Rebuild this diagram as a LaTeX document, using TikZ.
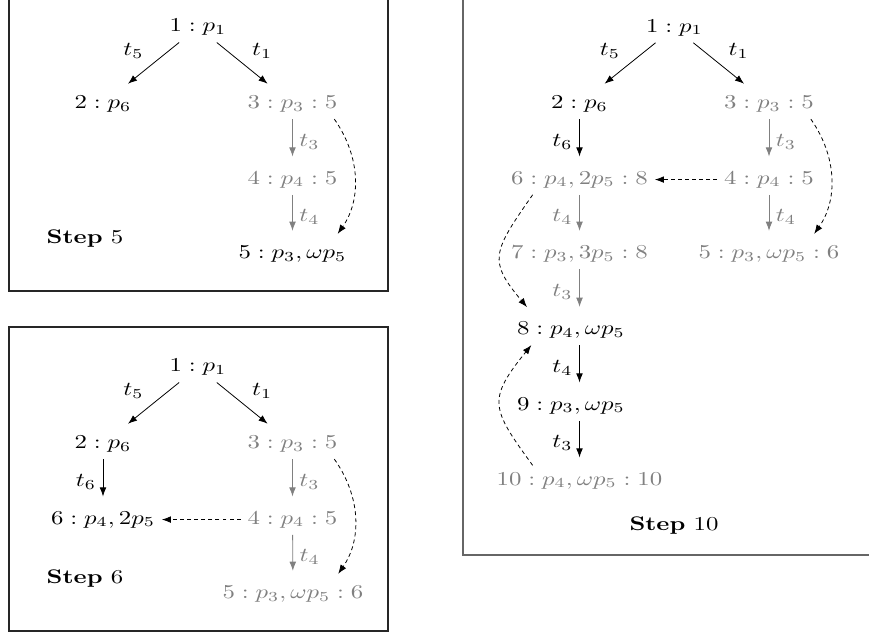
\documentclass[tikz,border=0pt]{standalone}
\usepackage{amsmath}
\usepackage{xcolor}
\usepackage{tikz}
\usetikzlibrary{arrows.meta}
\newcommand{\wide}[1]{\scalebox{1.26}[1]{#1}}
\tikzset{st/.style={anchor=base, inner sep=3.33pt},
	old/.style={st, text=black!50},
	arr/.style={-{Latex[length=4.6pt, width=3.4pt]}, shorten >=4pt},
	garr/.style={arr, color=black!50},
	cov/.style={-{Latex[length=4.6pt, width=3.4pt]}, dash pattern=on 2pt off 1.6pt},
	frame/.style={draw=black!85, line width=0.6pt}}

\begin{document}
\begin{tikzpicture}[x=1.7842cm, y=-1.7842cm]
		\useasboundingbox (0,0) rectangle (8.69,6.34);
		\clip (0,0) rectangle (8.69,6.34);
		
		\begin{scope}
			\draw[frame] (0.09,-0.13) rectangle (3.88,2.91);
			\node[st] (a1) at (1.98,0.317) {\wide{$1 : p_1$}};
			\node[st] (a2) at (1.03,1.083) {\wide{$2 : p_6$}};
			\node[old] (a3) at (2.925,1.083) {\wide{$3 : p_3 : 5$}};
			\node[old] (a4) at (2.925,1.84) {\wide{$4 : p_4 : 5$}};
			\node[st] (a5) at (2.925,2.583) {\wide{$5 : p_3, \omega p_5$}};
			\node[st] (s5) at (0.85,2.433) {\wide{\textbf{Step} 5}};
			\draw[arr] (a1) -- node[above left] (a12) {\wide{$t_5$}} (a2);
			\draw[arr] (a1) -- node[above right] (a13) {\wide{$t_1$}} (a3);
			\draw[garr] (a3) -- node[right] (a34) {\wide{$t_3$}} (a4);
			\draw[garr] (a4) -- node[right] (a45) {\wide{$t_4$}} (a5);
			\draw[cov, shorten >=3pt] (a3.-20) to[bend left=35] (a5.20);
		\end{scope}
		
		\begin{scope}[shift={(0,3.4)}]
			\draw[frame] (0.09,-0.13) rectangle (3.88,2.91);
			\node[st] (b1) at (1.98,0.317) {\wide{$1 : p_1$}};
			\node[st] (b2) at (1.03,1.083) {\wide{$2 : p_6$}};
			\node[old] (b3) at (2.925,1.083) {\wide{$3 : p_3 : 5$}};
			\node[st] (b6) at (1.03,1.84) {\wide{$6 : p_4, 2p_5$}};
			\node[old] (b4) at (2.925,1.84) {\wide{$4 : p_4 : 5$}};
			\node[old] (b5) at (2.93,2.583) {\wide{$5 : p_3, \omega p_5 : 6$}};
			\node[st] (s6) at (0.85,2.433) {\wide{\textbf{Step} 6}};
			\draw[arr] (b1) -- node[above left] (b12) {\wide{$t_5$}} (b2);
			\draw[arr] (b1) -- node[above right] (b13) {\wide{$t_1$}} (b3);
			\draw[arr] (b2) -- node[left] (b26) {\wide{$t_6$}} (b6);
			\draw[garr] (b3) -- node[right] (b34) {\wide{$t_3$}} (b4);
			\draw[garr] (b4) -- node[right] (b45) {\wide{$t_4$}} (b5);
			\draw[cov] (b4) -- (b6);
			\draw[cov, shorten >=3pt] (b3.-20) to[bend left=35] (b5.20);
		\end{scope}
		
		\begin{scope}[shift={(4.765,0)}]
			\draw[frame, draw=black!60] (-0.135,-0.13) rectangle (4.5,5.55);
			\node[st] (c1) at (1.98,0.32) {\wide{$1 : p_1$}};
			\node[st] (c2) at (1.03,1.083) {\wide{$2 : p_6$}};
			\node[old] (c3) at (2.925,1.083) {\wide{$3 : p_3 : 5$}};
			\node[old] (c6) at (1.03,1.84) {\wide{$6 : p_4, 2p_5 : 8$}};
			\node[old] (c4) at (2.925,1.84) {\wide{$4 : p_4 : 5$}};
			\node[old] (c7) at (1.03,2.583) {\wide{$7 : p_3, 3p_5 : 8$}};
			\node[old] (c5) at (2.925,2.583) {\wide{$5 : p_3, \omega p_5 : 6$}};
			\node[st] (c8) at (0.945,3.343) {\wide{$8 : p_4, \omega p_5$}};
			\node[st] (c9) at (0.945,4.10) {\wide{$9 : p_3, \omega p_5$}};
			\node[old] (c10) at (1.03,4.85) {\wide{$10 : p_4, \omega p_5 : 10$}};
			\node[st] (s10) at (1.975,5.30) {\wide{\textbf{Step} 10}};
			\draw[arr] (c1) -- node[above left] (c12) {\wide{$t_5$}} (c2);
			\draw[arr] (c1) -- node[above right] (c13) {\wide{$t_1$}} (c3);
			\draw[arr] (c2) -- node[left] (c26) {\wide{$t_6$}} (c6);
			\draw[garr] (c3) -- node[right] (c34) {\wide{$t_3$}} (c4);
			\draw[garr] (c4) -- node[right] (c45) {\wide{$t_4$}} (c5);
			\draw[garr] (c6) -- node[left] (c67) {\wide{$t_4$}} (c7);
			\draw[garr] (c7) -- node[left] (c78) {\wide{$t_3$}} (c8.north -| c7);
			\draw[arr] (c8.south -| c7) -- node[left] (c89) {\wide{$t_4$}} (c9.north -| c7);
			\draw[arr] (c9.south -| c7) -- node[left] (c910) {\wide{$t_3$}} (c10);
			\draw[cov] (c4) -- (c6);
			\draw[cov, shorten >=3pt] (c3.-20) to[bend left=35] (c5.20);
			\draw[cov, shorten >=5pt] (c6.-162) to[out=-125, in=130, looseness=1.5] (c8.158);
			\draw[cov] (c10.162) to[out=126, in=-129, looseness=1.5] (c8.-159);
		\end{scope}
	\end{tikzpicture}
\end{document}
